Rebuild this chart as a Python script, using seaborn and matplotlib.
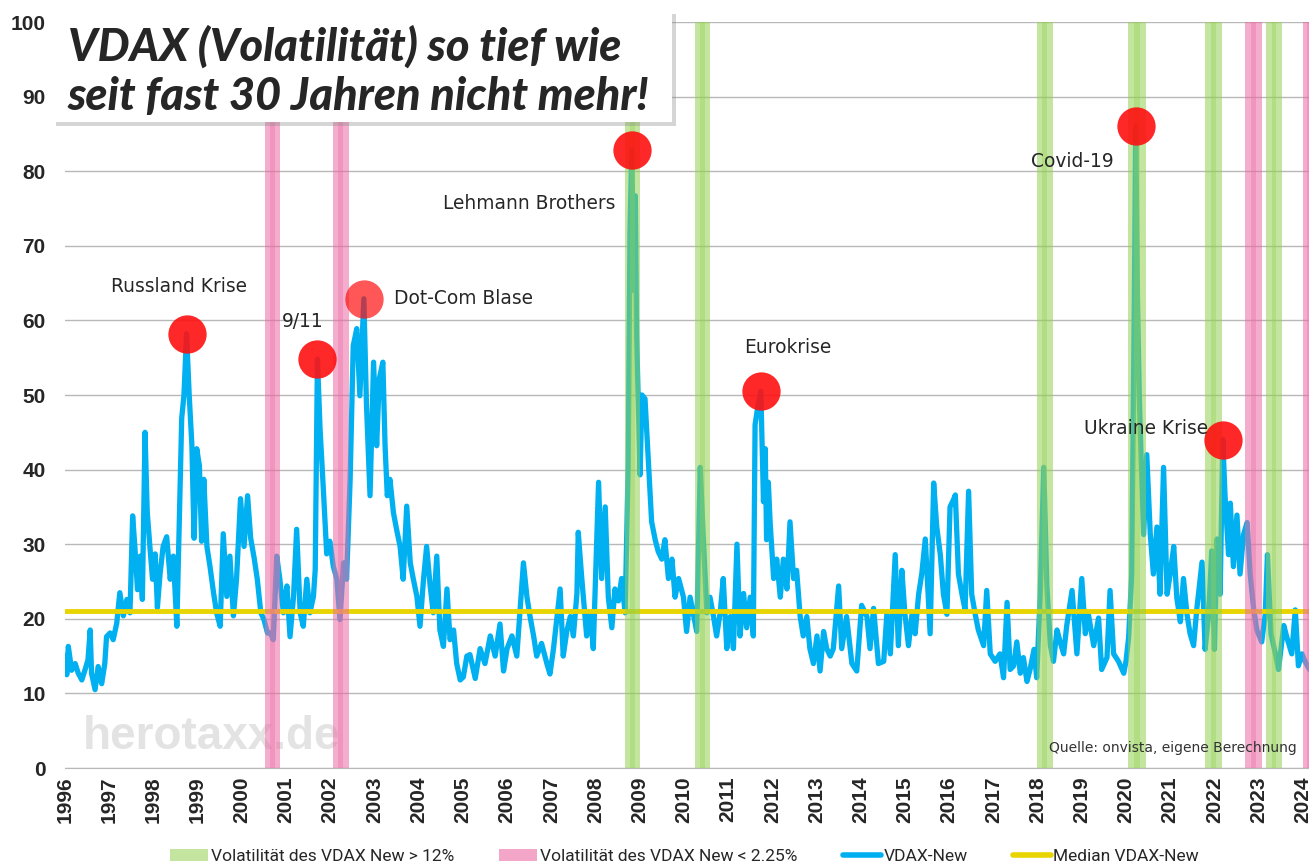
import numpy as np
import pandas as pd
import matplotlib
matplotlib.use("Agg")
import matplotlib.pyplot as plt
import seaborn as sns
from matplotlib.patches import Patch, Rectangle
from matplotlib.lines import Line2D

# VDAX-New: decimal year and index level
years_96_04 = [
    1996.00, 1996.04, 1996.075, 1996.15, 1996.23, 1996.30, 1996.38, 1996.45, 1996.52, 1996.57,
    1996.60, 1996.68, 1996.75, 1996.83, 1996.90, 1996.94, 1997.02, 1997.09, 1997.17, 1997.24,
    1997.32, 1997.40, 1997.47, 1997.53, 1997.58, 1997.64, 1997.70, 1997.75, 1997.81, 1997.86,
    1997.92, 1997.98, 1998.04, 1998.09, 1998.15, 1998.22, 1998.30, 1998.38, 1998.45, 1998.53,
    1998.59, 1998.64, 1998.69, 1998.75, 1998.81, 1998.87, 1998.92, 1998.98, 1999.04, 1999.09,
    1999.14, 1999.21, 1999.28, 1999.36, 1999.43, 1999.51, 1999.58, 1999.66, 1999.73, 1999.81,
    1999.88, 1999.97, 2000.05, 2000.13, 2000.20, 2000.28, 2000.35, 2000.43, 2000.50, 2000.58,
    2000.65, 2000.71, 2000.79, 2000.86, 2000.94, 2001.02, 2001.09, 2001.17, 2001.24, 2001.32,
    2001.39, 2001.47, 2001.54, 2001.62, 2001.66, 2001.71, 2001.77, 2001.84, 2001.92, 2001.99,
    2002.07, 2002.15, 2002.22, 2002.30, 2002.37, 2002.45, 2002.52, 2002.60, 2002.67, 2002.76,
    2002.82, 2002.90, 2002.98, 2003.05, 2003.11, 2003.19, 2003.24, 2003.29, 2003.35, 2003.43,
    2003.50, 2003.58, 2003.65, 2003.73, 2003.81, 2003.88, 2003.96, 2004.03, 2004.11, 2004.18,
    2004.26, 2004.33, 2004.41, 2004.48, 2004.56, 2004.64, 2004.71, 2004.79, 2004.86, 2004.94,
]
vdax_96_04 = [
    15.0, 12.5, 16.3, 13.1, 14.0, 12.7, 11.8, 13.1, 14.5, 18.5,
    12.7, 10.5, 13.6, 11.3, 14.0, 17.6, 18.1, 17.2, 19.4, 23.5,
    20.4, 22.6, 20.8, 33.8, 29.7, 23.9, 28.4, 22.6, 45.0, 34.3,
    29.7, 25.3, 28.7, 21.5, 26.0, 29.7, 31.0, 25.3, 28.4, 19.0,
    34.3, 46.9, 49.9, 58.2, 49.9, 43.3, 30.8, 42.8, 40.5, 30.4,
    38.7, 29.7, 27.0, 23.5, 20.8, 19.0, 31.4, 23.0, 28.4, 20.4,
    25.3, 36.1, 29.7, 36.5, 30.8, 28.1, 25.3, 20.8, 19.9, 18.1,
    18.1, 17.2, 28.4, 25.3, 20.8, 24.4, 17.6, 23.0, 32.0, 20.8,
    19.0, 25.3, 20.8, 23.0, 26.6, 54.8, 45.4, 37.8, 28.7, 30.4,
    27.0, 25.3, 19.9, 27.5, 25.3, 38.7, 56.6, 58.9, 49.9, 62.9,
    48.6, 36.5, 54.4, 43.2, 52.2, 54.4, 43.2, 36.5, 38.7, 34.2,
    32.0, 29.7, 25.3, 35.1, 27.5, 25.3, 23.0, 19.0, 25.3, 29.7,
    24.4, 20.8, 28.4, 18.5, 16.3, 24.0, 17.2, 18.5, 14.0, 11.8,
]

years_05_13 = [
    2005.01, 2005.09, 2005.16, 2005.28, 2005.39, 2005.50, 2005.62, 2005.73, 2005.84, 2005.92,
    2006.00, 2006.11, 2006.22, 2006.37, 2006.45, 2006.52, 2006.60, 2006.67, 2006.78, 2006.90,
    2006.97, 2007.05, 2007.20, 2007.27, 2007.35, 2007.43, 2007.50, 2007.58, 2007.61, 2007.69,
    2007.80, 2007.88, 2007.95, 2008.07, 2008.14, 2008.22, 2008.29, 2008.37, 2008.44, 2008.52,
    2008.59, 2008.67, 2008.74, 2008.78, 2008.82, 2008.87, 2008.90, 2008.93, 2008.97, 2009.01,
    2009.05, 2009.12, 2009.20, 2009.27, 2009.35, 2009.42, 2009.50, 2009.57, 2009.65, 2009.73,
    2009.80, 2009.88, 2009.99, 2010.06, 2010.14, 2010.29, 2010.37, 2010.44, 2010.52, 2010.59,
    2010.67, 2010.74, 2010.82, 2010.89, 2010.97, 2011.05, 2011.12, 2011.20, 2011.27, 2011.35,
    2011.42, 2011.50, 2011.57, 2011.61, 2011.66, 2011.74, 2011.80, 2011.84, 2011.87, 2011.91,
    2011.95, 2012.03, 2012.10, 2012.18, 2012.25, 2012.33, 2012.40, 2012.48, 2012.55, 2012.63,
    2012.70, 2012.78, 2012.85, 2012.93, 2013.01, 2013.08, 2013.16, 2013.23, 2013.31, 2013.38,
    2013.50, 2013.57, 2013.68, 2013.80, 2013.91,
]
vdax_05_13 = [
    12.2, 15.0, 15.2, 12.0, 16.0, 14.0, 17.7, 15.0, 19.3, 13.0,
    16.0, 17.7, 15.0, 27.5, 22.9, 20.3, 17.7, 15.0, 16.7, 14.0,
    12.6, 16.0, 24.0, 15.0, 18.3, 20.3, 17.7, 23.4, 31.6, 25.4,
    17.7, 20.8, 16.0, 38.3, 25.4, 35.0, 22.9, 18.8, 24.0, 22.4,
    25.4, 20.8, 40.8, 71.6, 82.8, 64.0, 76.7, 58.0, 48.5, 39.3,
    50.0, 49.5, 40.8, 33.0, 30.6, 29.0, 28.0, 30.6, 25.4, 28.0,
    22.9, 25.4, 22.9, 18.3, 22.9, 18.3, 40.3, 30.6, 20.8, 22.9,
    20.3, 17.7, 20.8, 25.4, 16.0, 20.3, 16.0, 30.0, 17.7, 23.4,
    18.8, 22.9, 17.7, 46.0, 48.0, 50.5, 35.7, 42.8, 30.6, 38.3,
    33.0, 25.4, 28.0, 22.9, 28.0, 24.0, 33.0, 25.4, 26.5, 20.3,
    17.7, 20.3, 16.0, 14.0, 17.7, 13.0, 18.3, 16.0, 15.0, 16.0,
    24.4, 16.0, 20.3, 14.0, 13.0,
]

years_14_24 = [
    2014.02, 2014.14, 2014.21, 2014.29, 2014.40, 2014.52, 2014.59, 2014.67, 2014.78, 2014.85,
    2014.93, 2015.00, 2015.08, 2015.16, 2015.23, 2015.31, 2015.38, 2015.46, 2015.50, 2015.57,
    2015.65, 2015.72, 2015.80, 2015.87, 2015.95, 2016.02, 2016.10, 2016.14, 2016.21, 2016.29,
    2016.36, 2016.44, 2016.51, 2016.59, 2016.66, 2016.78, 2016.85, 2016.93, 2017.04, 2017.15,
    2017.23, 2017.31, 2017.38, 2017.46, 2017.53, 2017.61, 2017.68, 2017.76, 2017.83, 2017.92,
    2017.98, 2018.06, 2018.14, 2018.21, 2018.29, 2018.36, 2018.44, 2018.51, 2018.59, 2018.66,
    2018.78, 2018.89, 2019.00, 2019.08, 2019.15, 2019.27, 2019.38, 2019.45, 2019.57, 2019.64,
    2019.72, 2019.83, 2019.95, 2020.00, 2020.06, 2020.13, 2020.19, 2020.22, 2020.26, 2020.30,
    2020.34, 2020.40, 2020.47, 2020.55, 2020.62, 2020.70, 2020.77, 2020.85, 2020.93, 2021.00,
    2021.08, 2021.15, 2021.23, 2021.30, 2021.38, 2021.45, 2021.53, 2021.60, 2021.72, 2021.79,
    2021.87, 2021.94, 2022.00, 2022.06, 2022.13, 2022.19, 2022.24, 2022.32, 2022.36, 2022.43,
    2022.51, 2022.58, 2022.66, 2022.74, 2022.81, 2022.89, 2022.96, 2023.07, 2023.15, 2023.20,
    2023.28, 2023.38, 2023.45, 2023.57, 2023.64, 2023.75, 2023.83, 2023.90, 2023.98, 2024.05,
    2024.15,
]
vdax_14_24 = [
    21.8, 20.3, 16.0, 21.4, 14.0, 14.3, 20.6, 15.3, 28.6, 16.4,
    26.5, 20.6, 16.4, 20.6, 18.0, 23.3, 26.0, 30.7, 26.0, 18.0,
    38.2, 32.3, 28.6, 23.3, 20.6, 35.0, 36.0, 36.6, 26.0, 23.3,
    21.2, 37.1, 23.3, 20.6, 18.5, 16.4, 23.8, 15.3, 14.3, 15.3,
    12.1, 22.2, 13.2, 13.7, 16.9, 12.7, 14.8, 11.6, 13.2, 15.9,
    12.1, 23.3, 40.3, 24.4, 16.4, 14.3, 18.5, 16.9, 15.3, 19.1,
    23.8, 15.3, 25.4, 18.0, 20.6, 16.4, 20.1, 13.2, 14.8, 23.8,
    15.3, 14.3, 12.7, 14.3, 17.5, 26.0, 63.2, 86.0, 63.0, 49.9,
    42.0, 31.3, 42.0, 31.3, 26.0, 32.3, 23.3, 40.3, 23.3, 26.0,
    29.7, 22.8, 19.6, 25.4, 20.6, 18.0, 16.4, 21.2, 27.6, 15.9,
    20.6, 29.1, 15.9, 30.7, 23.3, 44.0, 36.6, 28.6, 35.5, 27.0,
    33.9, 26.0, 31.3, 32.9, 26.0, 21.2, 18.5, 16.9, 20.6, 28.6,
    18.0, 15.3, 13.2, 19.1, 17.5, 15.3, 21.2, 13.7, 15.3, 14.3,
    13.2,
]

median_vdax = 21.0

# periods shaded in the chart (start year, end year)
high_vol_bands = [(2008.67, 2009.00), (2010.25, 2010.60), (2017.98, 2018.35),
                  (2020.04, 2020.45), (2021.78, 2022.17), (2023.17, 2023.53)]
low_vol_bands = [(2000.52, 2000.86), (2002.06, 2002.42), (2022.70, 2023.08),
                 (2024.00, 2024.30)]

event_labels = ["Russland Krise", "9/11", "Dot-Com Blase", "Lehmann Brothers",
                "Eurokrise", "Covid-19", "Ukraine Krise"]
event_dates = [1998.75, 2001.71, 2002.76, 2008.82, 2011.74, 2020.22, 2022.19]

year_ticks = list(range(1996, 2025))

BLUE = "#00b0f0"
YELLOW = "#e8d400"
GREEN = "#92d050"
PINK = "#eb6ba3"

df = pd.DataFrame({
    "year": years_96_04 + years_05_13 + years_14_24,
    "vdax": vdax_96_04 + vdax_05_13 + vdax_14_24,
})

sns.set_style("white")
plt.rcParams["font.family"] = ["DejaVu Sans"]

W, H = 1309, 866
fig = plt.figure(figsize=(W / 100, H / 100), dpi=100)
ax = fig.add_axes([65 / W, 1 - 768 / H, (W - 65) / W, (768 - 22) / H])

sns.lineplot(data=df, x="year", y="vdax", ax=ax, color=BLUE, lw=3.8,
             estimator=None, sort=False, zorder=3)
ax.axhline(median_vdax, color=YELLOW, lw=3.5, zorder=3)

# shaded periods sit on top of the lines, with a darker stripe inside
for bands, col in [(high_vol_bands, GREEN), (low_vol_bands, PINK)]:
    for a, b in bands:
        ax.axvspan(a, b, color=col, alpha=0.55, lw=0, zorder=4)
        mid, w = (a + b) / 2, (b - a) * 0.3
        ax.axvspan(mid - w / 2, mid + w / 2, color=col, alpha=0.35, lw=0, zorder=4)

# red markers on the crisis peaks
offsets = [(-8, 47, "center"), (-15, 38, "center"), (30, 0, "left"), (-16, -53, "right"),
           (27, 44, "center"), (-22, -35, "right"), (-15, 11, "right")]
for lab, d, (dx, dy, ha) in zip(event_labels, event_dates, offsets):
    win = df[(df["year"] - d).abs() < 0.06]
    i = win["vdax"].idxmax()
    px, py = df.loc[i, "year"], df.loc[i, "vdax"]
    alpha = 0.7 if lab == "Dot-Com Blase" else 0.9
    ax.scatter(px, py, s=760, color="#ff1010", alpha=alpha, lw=0, zorder=6)
    ax.annotate(lab, xy=(px, py), xytext=(dx, dy), textcoords="offset pixels",
                ha=ha, va="center", fontsize=13.4, color="#262626", zorder=7)

ax.set_xlim(1996, 2024.14)
ax.set_ylim(0, 100)
ax.set_yticks(range(0, 101, 10))
ax.set_xticks(year_ticks)
ax.set_xticklabels([str(y) for y in year_ticks], rotation=90)
ax.yaxis.grid(True, color="#b8b8b8", lw=1)
ax.set_axisbelow(True)
for s in ["top", "right", "left"]:
    ax.spines[s].set_visible(False)
ax.spines["bottom"].set_color("#b8b8b8")
ax.tick_params(axis="y", length=0, pad=14, labelsize=15)
ax.tick_params(axis="x", length=8, direction="inout", color="#b8b8b8", pad=2, labelsize=15)
for t in ax.get_xticklabels() + ax.get_yticklabels():
    t.set_fontweight("bold")
    t.set_family(["Liberation Sans", "DejaVu Sans"])
ax.set_xlabel("")
ax.set_ylabel("")

ax.text(0.014, 0.042, "herotaxx.de", transform=ax.transAxes, ha="left", va="center",
        fontsize=33, fontweight="bold", color="#e3e3e3", family=["Liberation Sans", "DejaVu Sans"],
        zorder=1)
ax.text(0.990, 0.027, "Quelle: onvista, eigene Berechnung", transform=ax.transAxes,
        ha="right", va="center", fontsize=10, color="#333333", zorder=7)

# title box with a soft shadow
fig.add_artist(Rectangle((56 / W, 1 - 126 / H), 620 / W, 112 / H, transform=fig.transFigure,
                         facecolor="#888888", alpha=0.35, lw=0, zorder=8))
fig.add_artist(Rectangle((52 / W, 1 - 122 / H), 620 / W, 112 / H, transform=fig.transFigure,
                         facecolor="white", lw=0, zorder=9))
for txt, yc in [("VDAX (Volatilität) so tief wie", 47), ("seit fast 30 Jahren nicht mehr!", 97)]:
    fig.text(68 / W, 1 - yc / H, txt, ha="left", va="center", fontsize=32.5,
             fontweight="black", style="italic", family=["Lato", "DejaVu Sans"], zorder=10)

handles = [Patch(facecolor=GREEN, alpha=0.55, lw=0),
           Patch(facecolor=PINK, alpha=0.6, lw=0),
           Line2D([], [], color=BLUE, lw=4),
           Line2D([], [], color=YELLOW, lw=4)]
labels = ["Volatilität des VDAX New > 12%", "Volatilität des VDAX New < 2.25%",
          "VDAX-New", "Median VDAX-New"]
fig.legend(handles, labels, loc="center", bbox_to_anchor=(0.523, 0.011), ncol=4,
           frameon=False, handlelength=2.2, handleheight=0.75, handletextpad=0.15,
           columnspacing=2.6, prop={"family": ["Roboto", "DejaVu Sans"], "size": 12.5})

fig.savefig("out.png", dpi=100)
